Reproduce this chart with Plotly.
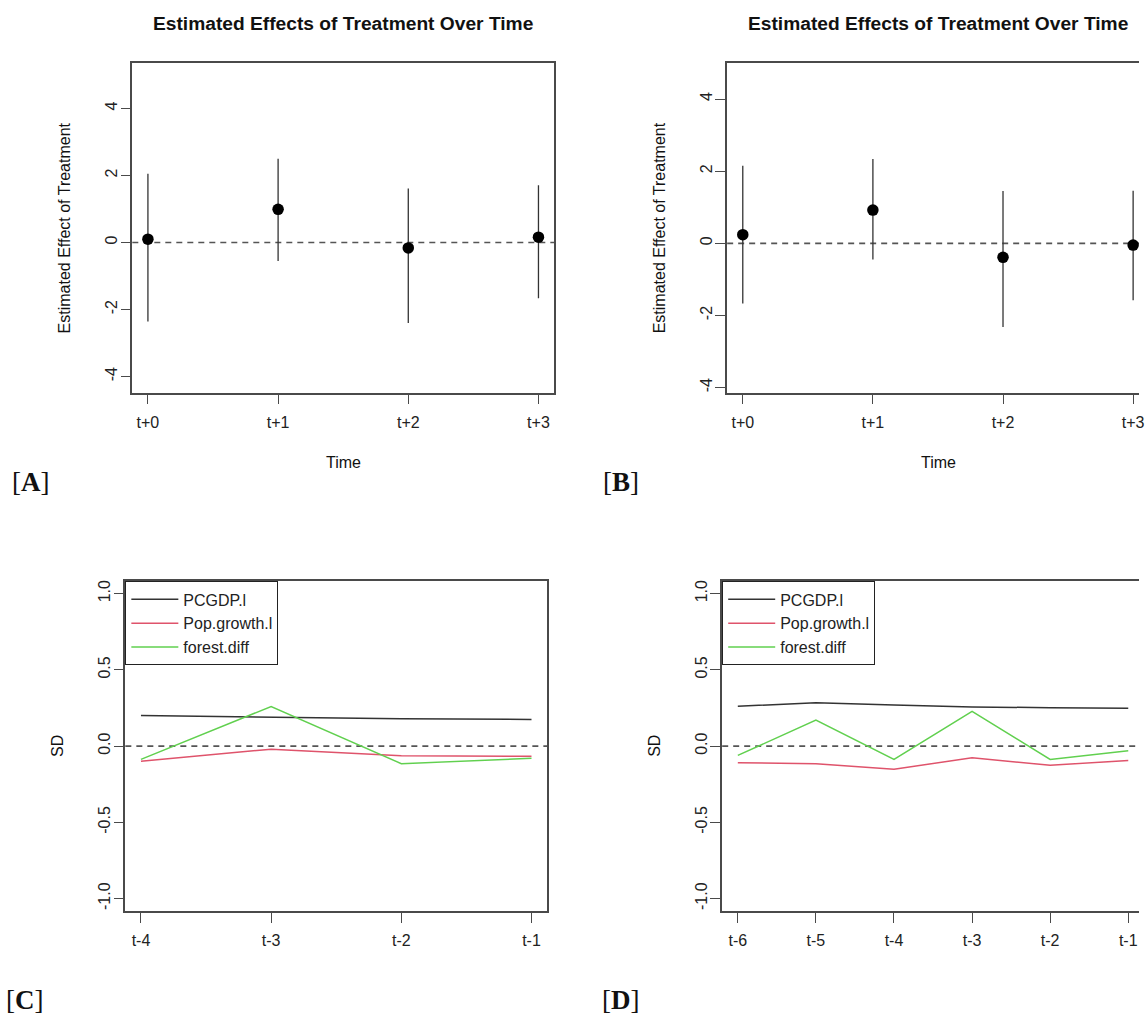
import plotly.graph_objects as go

W, H = 1145, 1018

# ---- event-study estimates (top row) ----
time_ab = ["t+0", "t+1", "t+2", "t+3"]

est_a = [0.10, 0.99, -0.16, 0.16]
lo_a = [-2.36, -0.55, -2.40, -1.66]
hi_a = [2.05, 2.50, 1.61, 1.71]

est_b = [0.24, 0.92, -0.39, -0.05]
lo_b = [-1.67, -0.45, -2.32, -1.58]
hi_b = [2.15, 2.34, 1.45, 1.46]

# ---- covariate balance in pre-treatment periods (bottom row) ----
lags_c = ["t-4", "t-3", "t-2", "t-1"]
pcgdp_c = [0.20, 0.19, 0.18, 0.175]
pop_c = [-0.10, -0.02, -0.063, -0.067]
forest_c = [-0.087, 0.26, -0.115, -0.08]

lags_d = ["t-6", "t-5", "t-4", "t-3", "t-2", "t-1"]
pcgdp_d = [0.261, 0.285, 0.27, 0.257, 0.252, 0.248]
pop_d = [-0.109, -0.115, -0.152, -0.076, -0.126, -0.094]
forest_d = [-0.061, 0.17, -0.087, 0.228, -0.087, -0.03]

series_names = ["PCGDP.l", "Pop.growth.l", "forest.diff"]
series_colors = ["#333333", "#DF536B", "#61D04F"]

SANS = "Liberation Sans, Arial, Helvetica, sans-serif"
SERIF = "Liberation Serif, Times New Roman, serif"
AXIS = "#4a4a4a"
FS = 16


def fx(p):
    return p / W


def fy(p):
    return 1 - p / H


fig = go.Figure()


def add_effects(est, lo, hi, xa, ya):
    fig.add_trace(go.Scatter(
        x=time_ab, y=est, mode="markers",
        marker=dict(size=11.5, color="black"),
        error_y=dict(type="data", symmetric=False,
                     array=[h - e for h, e in zip(hi, est)],
                     arrayminus=[e - l for e, l in zip(est, lo)],
                     width=0, thickness=1.3, color="#333333"),
        xaxis=xa, yaxis=ya, showlegend=False, hoverinfo="skip"))


add_effects(est_a, lo_a, hi_a, "x", "y")
add_effects(est_b, lo_b, hi_b, "x2", "y2")


def add_balance(lags, values, xa, ya, legend):
    for name, col, vals in zip(series_names, series_colors, values):
        fig.add_trace(go.Scatter(
            x=lags, y=vals, mode="lines", name=name,
            line=dict(color=col, width=1.5),
            xaxis=xa, yaxis=ya, legend=legend, hoverinfo="skip"))


add_balance(lags_c, [pcgdp_c, pop_c, forest_c], "x3", "y3", "legend")
add_balance(lags_d, [pcgdp_d, pop_d, forest_d], "x4", "y4", "legend2")

# dashed reference line at zero on every panel
shapes = []
for xa, ya in [("x", "y"), ("x2", "y2"), ("x3", "y3"), ("x4", "y4")]:
    shapes.append(dict(type="line", xref=f"{xa} domain", yref=ya,
                       x0=0, x1=1, y0=0, y1=0, layer="below",
                       line=dict(color="#555555", width=1.7, dash="6px,5px")))


def xaxis_cfg(domain, rng, mirror=True):
    return dict(domain=domain, type="category", range=rng,
                showline=True, mirror=mirror, linecolor=AXIS, linewidth=1.6,
                ticks="outside", ticklen=10, tickwidth=1.3, tickcolor=AXIS,
                ticklabelstandoff=4,
                showgrid=False, zeroline=False,
                tickfont=dict(family=SANS, size=FS, color="#222"))


def yaxis_cfg(domain, rng, vals, text, mirror=True):
    return dict(domain=domain, range=rng, tickvals=vals, ticktext=text,
                tickangle=-90, showline=True, mirror=mirror,
                linecolor=AXIS, linewidth=1.6,
                ticks="outside", ticklen=10, tickwidth=1.3, tickcolor=AXIS,
                ticklabelstandoff=-3,
                showgrid=False, zeroline=False,
                tickfont=dict(family=SANS, size=FS, color="#222"))


top_dom = [fy(392), fy(62)]
bot_dom = [fy(910.7), fy(581)]
eff_ticks = [-4, -2, 0, 2, 4]
sd_ticks = [-1, -0.5, 0, 0.5, 1]
sd_text = ["-1.0", "-0.5", "0.0", "0.5", "1.0"]

layout = dict(
    width=W, height=H, margin=dict(l=0, r=0, t=0, b=0),
    paper_bgcolor="white", plot_bgcolor="white",
    font=dict(family=SANS, size=FS, color="#222"),
    xaxis=dict(xaxis_cfg([fx(133), fx(557)], [-0.12, 3.12]), anchor="y"),
    yaxis=dict(yaxis_cfg(top_dom, [-4.48, 5.36], eff_ticks, [str(v) for v in eff_ticks]), anchor="x"),
    xaxis2=dict(xaxis_cfg([fx(731), 1.0], [-0.12, -0.12 + (W - 731) / 130.8]), anchor="y2"),
    yaxis2=dict(yaxis_cfg(top_dom, [-4.14, 5.0], eff_ticks, [str(v) for v in eff_ticks], mirror=False), anchor="x2"),
    xaxis3=dict(xaxis_cfg([fx(126), fx(550)], [-0.12, 3.12]), anchor="y3"),
    yaxis3=dict(yaxis_cfg(bot_dom, [-1.08, 1.08], sd_ticks, sd_text), anchor="x3"),
    xaxis4=dict(xaxis_cfg([fx(726), 1.0], [-0.2, -0.2 + (W - 726) / 78.5]), anchor="y4"),
    yaxis4=dict(yaxis_cfg(bot_dom, [-1.08, 1.08], sd_ticks, sd_text, mirror=False), anchor="x4"),
    shapes=shapes,
)

legend_style = dict(xanchor="left", yanchor="top", bgcolor="white",
                    bordercolor="#222", borderwidth=1,
                    font=dict(family=SANS, size=FS, color="#222"),
                    itemwidth=47, tracegroupgap=0)
layout["legend"] = dict(legend_style, x=fx(126), y=fy(581))
layout["legend2"] = dict(legend_style, x=fx(726), y=fy(581))

fig.update_layout(**layout)

# titles, axis labels and panel tags
ann = []


def text(x, y, s, size=FS, bold=False, angle=0, family=SANS):
    ann.append(dict(xref="paper", yref="paper", x=fx(x), y=fy(y),
                    xanchor="center", yanchor="middle", showarrow=False,
                    text=f"<b>{s}</b>" if bold else s, textangle=angle,
                    font=dict(family=family, size=size, color="#111")))


for off in (0, 598):
    text(345 + off, 23, "Estimated Effects of Treatment Over Time", size=19.2, bold=True)
    text(345 + off, 462, "Time")
    text(65 + off, 227, "Estimated Effect of Treatment", angle=-90)
for off in (0, 600):
    text(58 + off, 746, "SD", angle=-90)

for x, y, tag in [(31, 481, "A"), (624, 481, "B"), (25, 1000, "C"), (624, 1000, "D")]:
    text(x, y, f"[<b>{tag}</b>]", size=27, family=SERIF)

fig.update_layout(annotations=ann)

fig.write_html("out.html")
